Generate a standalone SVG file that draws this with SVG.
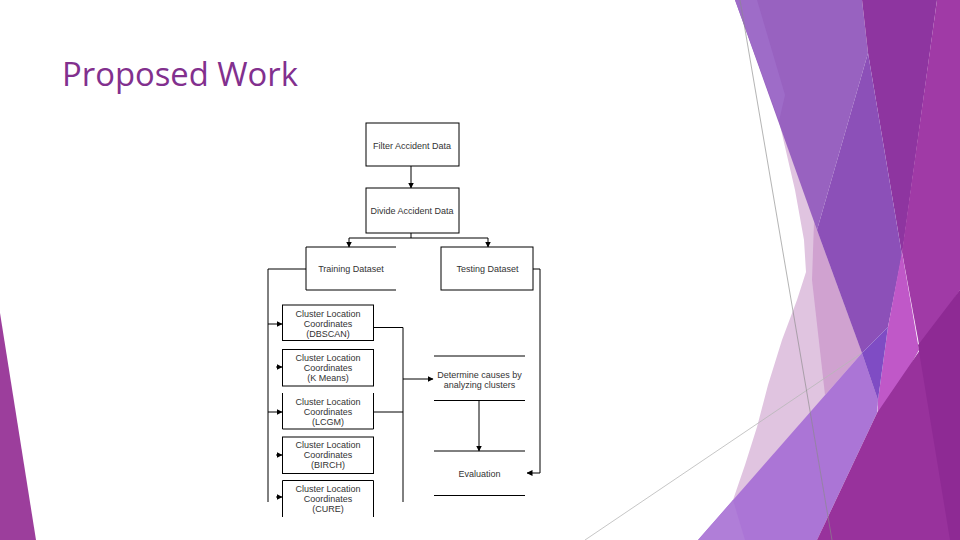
<svg xmlns="http://www.w3.org/2000/svg" width="960" height="540" viewBox="0 0 960 540">
  <defs>
    <marker id="ah" markerUnits="userSpaceOnUse" markerWidth="6" markerHeight="6" refX="5.5" refY="3" orient="auto">
      <path d="M0,0 L6,3 L0,6 Z" fill="#000"/>
    </marker>
    <style>
      .box { fill: #fff; stroke: #000; stroke-width: 1; }
      .open { fill: none; stroke: #000; stroke-width: 1; }
      .lbl { font-family: "Liberation Sans", Arial, sans-serif; font-size: 9px; fill: #333; text-anchor: middle; }
      .con { fill: none; stroke: #000; stroke-width: 1; }
      .arr { fill: none; stroke: #000; stroke-width: 1; marker-end: url(#ah); }
    </style>
  </defs>
  <rect width="960" height="540" fill="#fff"/>

  <!-- decoration -->
  <g id="decoration">
    <polygon points="0,313 36,540 0,540" fill="#9c3e9c"/>
    <polygon points="779,121 795,190 804,240 806,272 797,300 782,340 768,385 757,427 745,465 733,500 710,540 817,540 880,400" fill="#e0c4e0"/>
    <polygon points="814,222 862,353 825,395 812,280" fill="#d0a2d0"/>
    <line x1="585" y1="540" x2="862" y2="353" stroke="#b8b8b8" stroke-width="0.8"/>
    <polygon points="735,0 862,0 868,53 817,230" fill="#9862c0"/>
    <polygon points="735,0 757,0 785,95 779,121" fill="#9e6cc8"/>
    <polygon points="862,0 937,0 902,255 868,53" fill="#8e35a0"/>
    <polygon points="937,0 960,0 960,290 920,350 902,252" fill="#a03aa6"/>
    <polygon points="868,53 902,255 888,327 862,353 817,230" fill="#8c50b8"/>
    <polygon points="902,252 919,350 877,425 878,400 888,327" fill="#c058c8"/>
    <polygon points="698,540 862,353 878,400 877,413 817,540" fill="#ab75d6"/>
    <polygon points="698,540 733,500 745,540" fill="#b07ed8"/>
    <polygon points="862,353 888,327 878,400" fill="#7f4cc4"/>
    <polygon points="817,540 877,413 920,350 960,290 960,540" fill="#98329c"/>
    <polygon points="918,345 960,290 960,540 950,540" fill="#8e2a94"/>
    <line x1="740" y1="0" x2="832" y2="540" stroke="#8a8a8a" stroke-width="0.8" opacity="0.8"/>
  </g>

  <text x="62" y="86" font-family="'Open Sans', 'Noto Sans', sans-serif" font-size="32" fill="#82308e" textLength="236" lengthAdjust="spacingAndGlyphs">Proposed Work</text>

  <!-- connectors -->
  <g id="connectors">
    <path class="arr" d="M411,166 V188"/>
    <path class="con" d="M411,233 V238 M349,238 H488"/>
    <path class="arr" d="M349,238 V247"/>
    <path class="arr" d="M488,238 V247"/>
    <path class="con" d="M306,269 H268 V502"/>
    <path class="arr" d="M268,324 H282"/>
    <path class="arr" d="M276,367 H282"/>
    <path class="arr" d="M268,412 H282"/>
    <path class="arr" d="M276,455 H282"/>
    <path class="arr" d="M276,497 H282"/>
    <path class="con" d="M373,327.5 H403 V502 M373,412 H403"/>
    <path class="arr" d="M403,379 H433"/>
    <path class="arr" d="M479,400.5 V451"/>
    <path class="arr" d="M533,269 H540 V473 H527"/>
  </g>

  <g id="filter">
    <rect class="box" x="366" y="123" width="93" height="43"/>
    <text class="lbl" x="412" y="148.5">Filter Accident Data</text>
  </g>
  <g id="divide">
    <rect class="box" x="366" y="188" width="93" height="45"/>
    <text class="lbl" x="412" y="213.5">Divide Accident Data</text>
  </g>
  <g id="training">
    <path class="open" d="M396,247 H306 V290 H396"/>
    <text class="lbl" x="351" y="271.5">Training Dataset</text>
  </g>
  <g id="testing">
    <rect class="box" x="441" y="247" width="92" height="43"/>
    <text class="lbl" x="487.5" y="271.5">Testing Dataset</text>
  </g>
  <g id="dbscan">
    <rect class="box" x="282.5" y="305" width="91" height="35.5"/>
    <text class="lbl" x="328" y="317.3">Cluster Location</text>
    <text class="lbl" x="328" y="327.3">Coordinates</text>
    <text class="lbl" x="328" y="337.3">(DBSCAN)</text>
  </g>
  <g id="kmeans">
    <rect class="box" x="282.5" y="349.5" width="91" height="36.5"/>
    <text class="lbl" x="328" y="361">Cluster Location</text>
    <text class="lbl" x="328" y="371">Coordinates</text>
    <text class="lbl" x="328" y="381">(K Means)</text>
  </g>
  <g id="lcgm">
    <path class="open" d="M282.5,393 V429 H373.5 V393"/>
    <text class="lbl" x="328" y="404.5">Cluster Location</text>
    <text class="lbl" x="328" y="414.5">Coordinates</text>
    <text class="lbl" x="328" y="424.5">(LCGM)</text>
  </g>
  <g id="birch">
    <rect class="box" x="282.5" y="437" width="91" height="36.5"/>
    <text class="lbl" x="328" y="448">Cluster Location</text>
    <text class="lbl" x="328" y="458">Coordinates</text>
    <text class="lbl" x="328" y="468">(BIRCH)</text>
  </g>
  <g id="cure">
    <path class="open" d="M282.5,517 V480.5 H373.5 V517"/>
    <text class="lbl" x="328" y="492">Cluster Location</text>
    <text class="lbl" x="328" y="502">Coordinates</text>
    <text class="lbl" x="328" y="512">(CURE)</text>
  </g>
  <g id="determine">
    <path class="open" d="M434,356 H525 M434,400.5 H525"/>
    <text class="lbl" x="479.5" y="378">Determine causes by</text>
    <text class="lbl" x="479.5" y="387.5">analyzing clusters</text>
  </g>
  <g id="evaluation">
    <path class="open" d="M434,451 H525 M434,495.5 H525"/>
    <text class="lbl" x="479.5" y="476.5">Evaluation</text>
  </g>
</svg>
